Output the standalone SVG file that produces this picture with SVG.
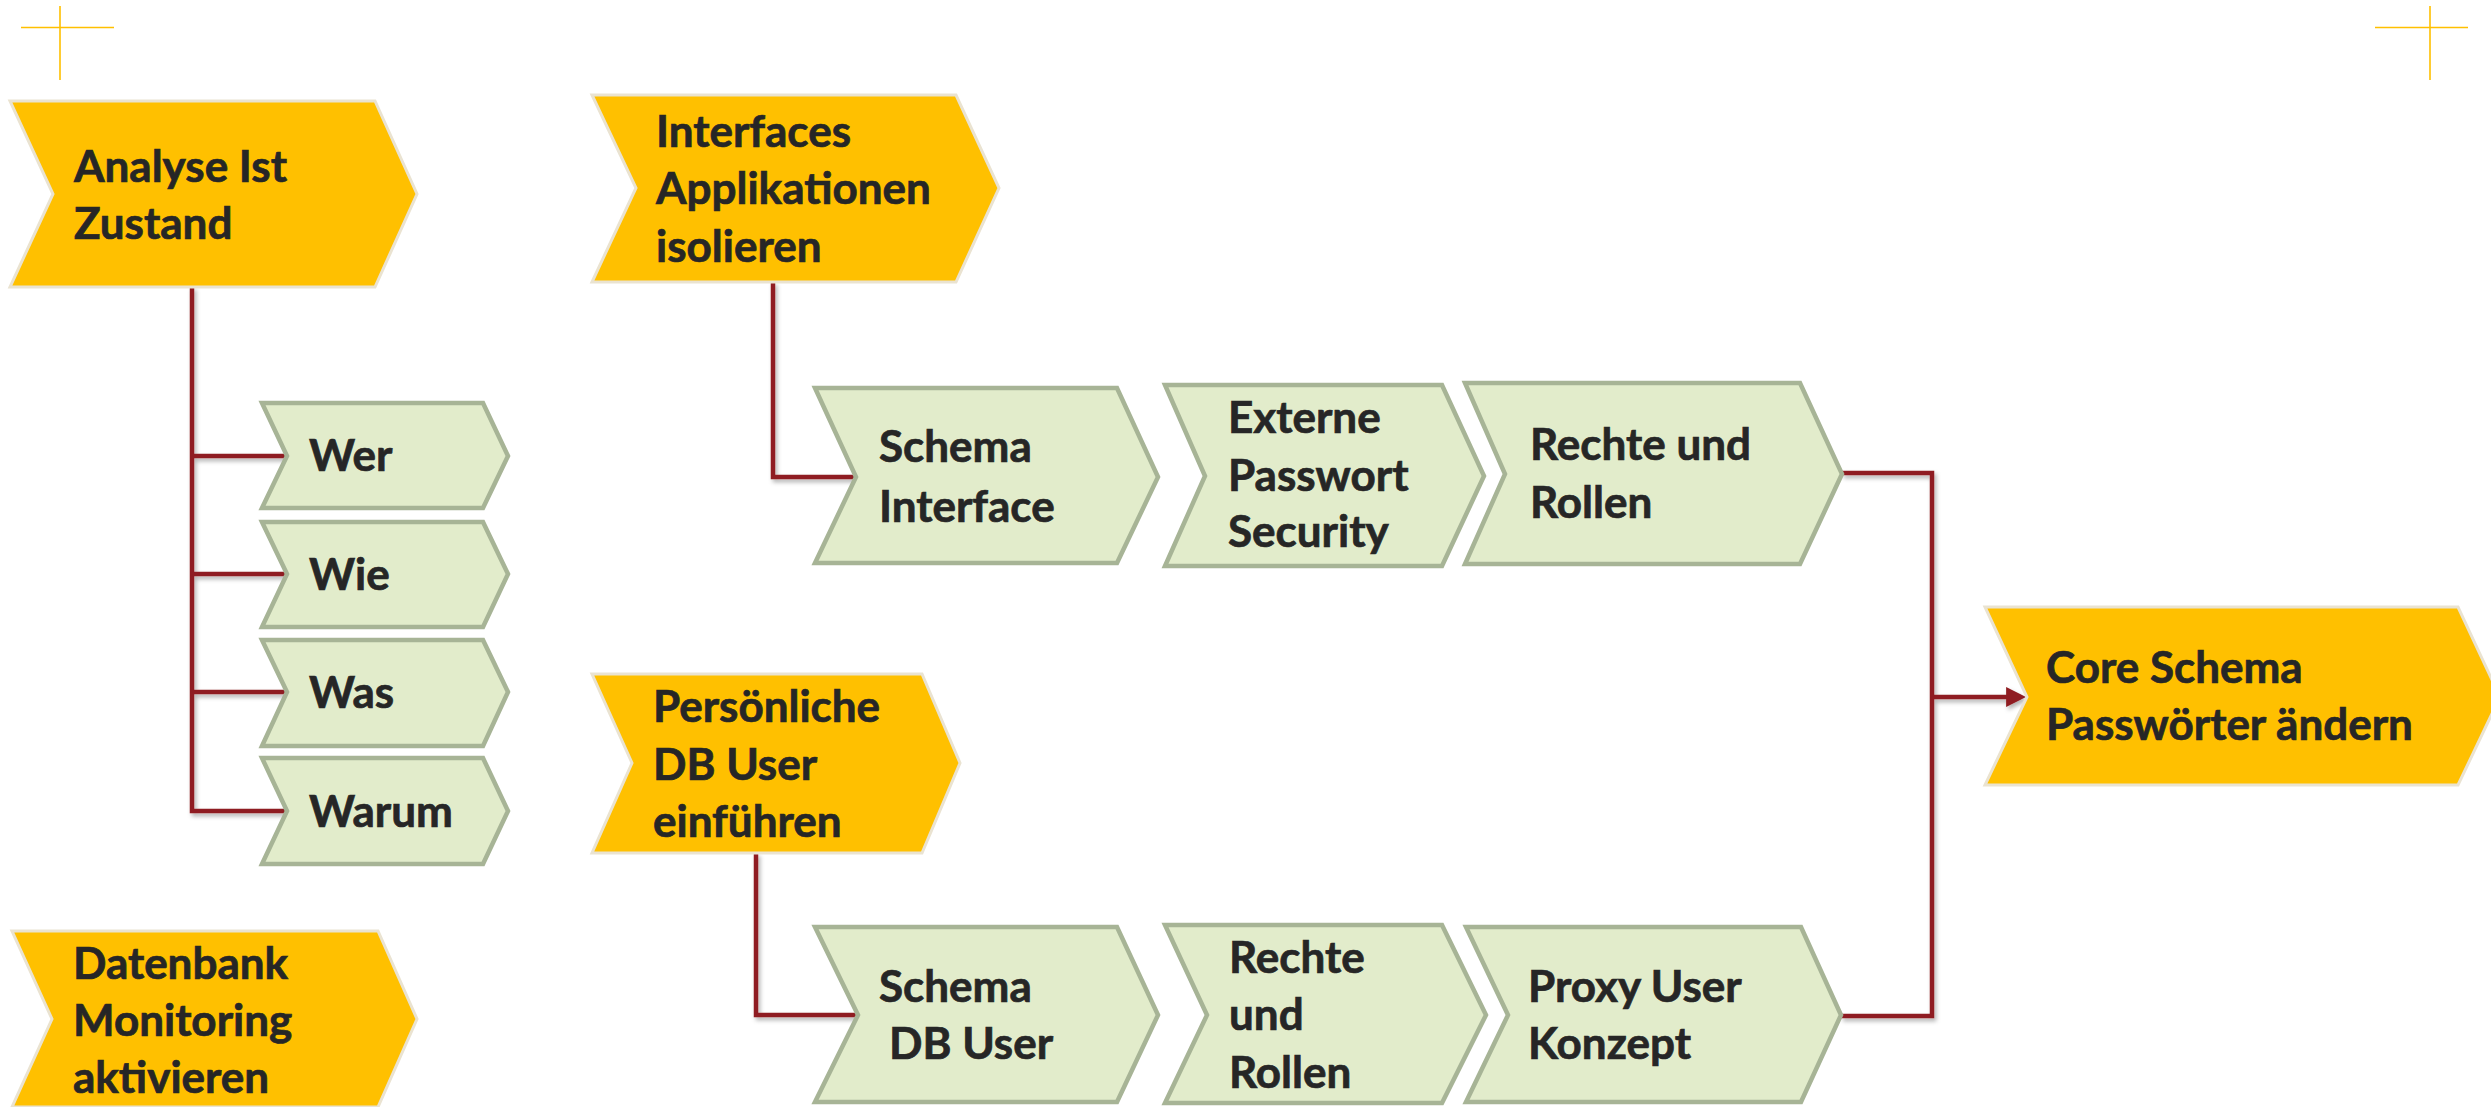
<svg xmlns="http://www.w3.org/2000/svg" width="2491" height="1107" viewBox="0 0 2491 1107">
<style>
.y{fill:#FFC000;stroke:#EAE3D1;stroke-width:3;stroke-linejoin:miter}
.g{fill:#E2ECCB;stroke:#A7B496;stroke-width:4.5;stroke-linejoin:miter}
.t{font-family:Lato,"Open Sans","Liberation Sans",sans-serif;font-weight:bold;font-size:44px;fill:#262626;stroke:#262626;stroke-width:0.7}
.c{fill:none;stroke:#8F1D21;stroke-width:4.5;stroke-linejoin:miter}
.x{fill:none;stroke:#FFC000;stroke-width:1.6}
</style>
<defs>
<filter id="sh" x="-5%" y="-5%" width="110%" height="110%">
<feDropShadow dx="2" dy="3" stdDeviation="2" flood-color="#000" flood-opacity="0.3"/>
</filter>
<marker id="ah" markerUnits="userSpaceOnUse" markerWidth="20" markerHeight="20" viewBox="0 0 18 18" refX="8" refY="9" orient="auto">
<path d="M0,0 L18,9 L0,18 z" fill="#8F1D21"/>
</marker>
</defs>
<rect width="2491" height="1107" fill="#fff"/>
<g id="marks">
<path class="x" d="M21 27.5 H114 M60 6 V80"/>
<path class="x" d="M2375 27.5 H2468 M2430 6 V80"/>
</g>
<g id="connectors" filter="url(#sh)">
<path class="c" d="M192 287 V811 H287 M192 456 H287 M192 574 H287 M192 692 H287"/>
<path class="c" d="M773 282 V477 H858"/>
<path class="c" d="M756 853 V1015 H858"/>
<path class="c" d="M1842 473 H1932 V1016 H1841"/>
<path class="c" d="M1932 697 H2015" marker-end="url(#ah)"/>
</g>
<g id="analyse">
<polygon class="y" points="10,101 375,101 417,194 375,287 10,287 53,194"/>
<text class="t" x="74" y="182">Analyse Ist</text>
<text class="t" x="74" y="239">Zustand</text>
</g>
<g id="interfaces">
<polygon class="y" points="592,95 956,95 999,188 956,282 592,282 636,188"/>
<text class="t" x="656" y="147">Interfaces</text>
<text class="t" x="656" y="204">Applikationen</text>
<text class="t" x="656" y="262">isolieren</text>
</g>
<g id="persoenliche">
<polygon class="y" points="592,674 922,674 960,763 922,853 592,853 632,763"/>
<text class="t" x="653" y="722">Persönliche</text>
<text class="t" x="653" y="780">DB User</text>
<text class="t" x="653" y="837">einführen</text>
</g>
<g id="datenbank">
<polygon class="y" points="12,931 378,931 417,1019 378,1107 12,1107 52,1019"/>
<text class="t" x="73" y="979">Datenbank</text>
<text class="t" x="73" y="1036">Monitoring</text>
<text class="t" x="73" y="1093">aktivieren</text>
</g>
<g id="core">
<polygon class="y" points="1985,607 2458,607 2500,697 2458,785 1985,785 2027,697"/>
<text class="t" x="2046" y="683">Core Schema</text>
<text class="t" x="2046" y="740">Passwörter ändern</text>
</g>
<g id="wer">
<polygon class="g" points="262,403 483,403 508,456 483,508 262,508 287,456"/>
<text class="t" x="309" y="471">Wer</text>
</g>
<g id="wie">
<polygon class="g" points="262,522 483,522 508,574 483,627 262,627 287,574"/>
<text class="t" x="309" y="590">Wie</text>
</g>
<g id="was">
<polygon class="g" points="262,640 483,640 508,692 483,746 262,746 287,692"/>
<text class="t" x="309" y="708">Was</text>
</g>
<g id="warum">
<polygon class="g" points="262,758 483,758 508,811 483,864 262,864 287,811"/>
<text class="t" x="309" y="827">Warum</text>
</g>
<g id="schema-interface">
<polygon class="g" points="815,388 1117,388 1158,477 1117,563 815,563 856,477"/>
<text class="t" x="879" y="462">Schema</text>
<text class="t" x="879" y="522">Interface</text>
</g>
<g id="externe-passwort">
<polygon class="g" points="1165,385 1442,385 1484,476 1442,566 1165,566 1205,476"/>
<text class="t" x="1228" y="433">Externe</text>
<text class="t" x="1228" y="491">Passwort</text>
<text class="t" x="1228" y="547">Security</text>
</g>
<g id="rechte-rollen-1">
<polygon class="g" points="1465,383 1800,383 1842,474 1800,564 1465,564 1505,474"/>
<text class="t" x="1530" y="460">Rechte und</text>
<text class="t" x="1530" y="518">Rollen</text>
</g>
<g id="schema-db-user">
<polygon class="g" points="815,927 1117,927 1158,1015 1117,1102 815,1102 858,1015"/>
<text class="t" x="879" y="1002">Schema</text>
<text class="t" x="889" y="1059">DB User</text>
</g>
<g id="rechte-rollen-2">
<polygon class="g" points="1165,925 1442,925 1486,1015 1442,1103 1165,1103 1207,1015"/>
<text class="t" x="1229" y="973">Rechte</text>
<text class="t" x="1229" y="1030">und</text>
<text class="t" x="1229" y="1088">Rollen</text>
</g>
<g id="proxy-user">
<polygon class="g" points="1466,927 1801,927 1841,1015 1801,1102 1466,1102 1508,1015"/>
<text class="t" x="1528" y="1002">Proxy User</text>
<text class="t" x="1528" y="1059">Konzept</text>
</g>
</svg>
